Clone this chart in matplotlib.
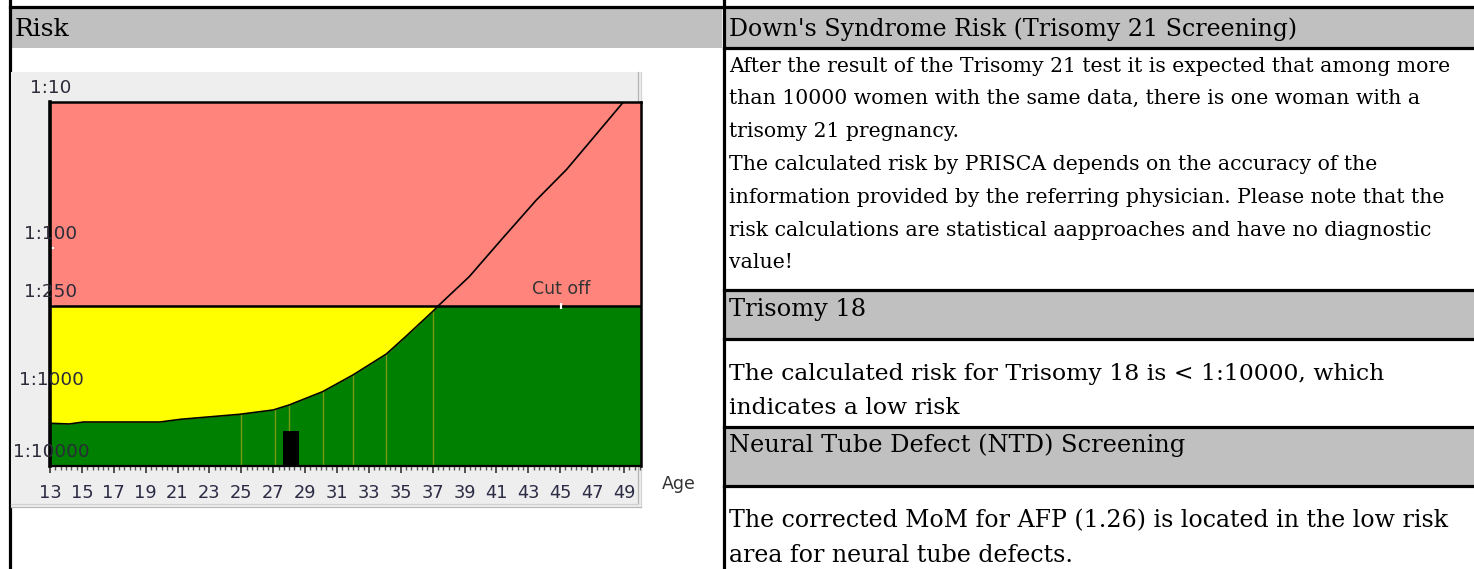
import numpy as np
import matplotlib
matplotlib.use('Agg')
import matplotlib.pyplot as plt
from matplotlib.patches import Rectangle
from matplotlib.ticker import NullLocator, MultipleLocator

# Age related risk curve for trisomy 21 (risk 1:N)
ages = [13, 14.2, 15.1, 19.9, 21.2, 24.9, 27.0, 28.0, 30.1, 32.0, 34.1, 35.3,
        37.1, 37.3, 39.3, 41.3, 43.5, 45.4, 47.0, 48.9]
risk = [2550, 2610, 2450, 2450, 2245, 1914, 1667, 1421, 964, 741, 532, 405,
        266, 252, 157, 88, 47, 29, 18, 10.2]
node_ages = [25.0, 27.1, 28.0, 30.1, 32.0, 34.1, 37.0]
cutoff = 250
patient_age = 28.13
patient_risk = 3300
risk_ticks = [10, 100, 250, 1000, 10000]
risk_labels = ['1:10', '1:100', '1:250', '1:1000', '1:10000']
age_ticks = list(range(13, 50, 2))

# report text
left_header = "Risk"
t21_header = "Down's Syndrome Risk (Trisomy 21 Screening)"
t21_lines = ["After the result of the Trisomy 21 test it is expected that among more",
             "than 10000 women with the same data, there is one woman with a",
             "trisomy 21 pregnancy.",
             "The calculated risk by PRISCA depends on the accuracy of the",
             "information provided by the referring physician. Please note that the",
             "risk calculations are statistical aapproaches and have no diagnostic",
             "value!"]
t18_header = "Trisomy 18"
t18_lines = ["The calculated risk for Trisomy 18 is < 1:10000, which",
             "indicates a low risk"]
ntd_header = "Neural Tube Defect (NTD) Screening"
ntd_lines = ["The corrected MoM for AFP (1.26) is located in the low risk",
             "area for neural tube defects."]

W, H = 1474, 569
fig = plt.figure(figsize=(W / 100, H / 100), dpi=100)

# ---- page / table layer in pixel coordinates
bg = fig.add_axes([0, 0, 1, 1])
bg.set_xlim(0, W)
bg.set_ylim(H, 0)
bg.axis('off')

gray = '#C0C0C0'
bg.add_patch(Rectangle((12, 9), 710, 39, facecolor=gray, edgecolor='none'))
bg.add_patch(Rectangle((726, 9), W - 726, 38, facecolor=gray, edgecolor='none'))
bg.add_patch(Rectangle((726, 292), W - 726, 46, facecolor=gray, edgecolor='none'))
bg.add_patch(Rectangle((726, 428), W - 726, 57, facecolor=gray, edgecolor='none'))

lw = 2.3
bg.plot([10, W], [7, 7], color='black', lw=lw)
bg.plot([10.5, 10.5], [0, H], color='black', lw=lw)
bg.plot([724, 724], [0, H], color='black', lw=lw)
for yy in [48, 290, 339, 427, 486]:
    bg.plot([724, W], [yy, yy], color='black', lw=lw)

# chart picture box
bg.add_patch(Rectangle((11, 72), 631, 435, facecolor='#EEEEEE', edgecolor='none', zorder=3))
bg.plot([638, 638], [72, 504], color='#B4B4B4', lw=0.9, zorder=4)
bg.plot([641, 641], [72, 507], color='#D4D4D4', lw=0.9, zorder=4)
bg.plot([11, 638], [503.5, 503.5], color='#D0D0D0', lw=0.9, zorder=4)
bg.plot([11, 641], [506.5, 506.5], color='#B8B8B8', lw=0.9, zorder=4)

serif = 'DejaVu Serif'
head_fs = 17.4
bg.text(15, 29, left_header, fontsize=18, family=serif, va='center')
bg.text(729, 29, t21_header, fontsize=17.15, family=serif, va='center')
for i, s in enumerate(t21_lines):
    bg.text(729, 66 + i * 32.8, s, fontsize=14.7, family=serif, va='center')
bg.text(729, 309, t18_header, fontsize=head_fs, family=serif, va='center')
for i, s in enumerate(t18_lines):
    bg.text(729, 374 + i * 34, s, fontsize=16.9, family=serif, va='center')
bg.text(729, 445, ntd_header, fontsize=head_fs, family=serif, va='center')
for i, s in enumerate(ntd_lines):
    bg.text(729, 521 + i * 34, s, fontsize=17.1, family=serif, va='center')

bg.text(662, 484, 'Age', fontsize=12.5, color='#333333', va='center')

# ---- risk chart
K = 72 / 146  # the 1:1000 - 1:10000 decade is drawn compressed


def fwd(v):
    with np.errstate(divide='ignore', invalid='ignore'):
        t = np.log10(np.asarray(v, dtype=float))
    return np.where(t <= 3, t, 3 + (t - 3) * K)


def inv(t):
    t = np.asarray(t, dtype=float)
    return 10 ** np.where(t <= 3, t, 3 + (t - 3) / K)


ax = fig.add_axes([50 / W, (H - 466) / H, 591 / W, 364 / H])
ax.set_yscale('function', functions=(fwd, inv))
ax.set_xlim(13, 50.07)
ax.set_ylim(10000, 10)

ax.axhspan(10, cutoff, color='#FF857C', zorder=1)
ax.axhspan(cutoff, 10000, color='#008000', zorder=1)
ax.vlines(node_ages, cutoff, 10000, color='#7A9A10', lw=1, zorder=2)
risk_arr = np.array(risk)
ax.fill_between(ages, risk_arr, cutoff, where=risk_arr > cutoff,
                interpolate=True, color='#FFFF00', lw=0, zorder=3)
ax.bar(patient_age, 10000 - patient_risk, bottom=patient_risk, width=0.99,
       color='black', zorder=4)
ax.axhline(cutoff, color='black', lw=1.8, zorder=5)
ax.plot(ages, risk, color='black', lw=1.2, zorder=6)
ax.plot([45.06], [cutoff], marker='|', color='white', ms=4, mew=1.6, zorder=7)
ax.annotate('Cut off', xy=(45.06, cutoff), xytext=(0, 17), textcoords='offset pixels',
            ha='center', va='center', fontsize=12.5, color='#333333')

ax.set_yticks(risk_ticks)
ax.yaxis.set_ticklabels([])
ax.yaxis.set_minor_locator(NullLocator())
ax.tick_params(axis='y', length=3, width=1.5, color='white', direction='in')
for r, lab in zip(risk_ticks, risk_labels):
    ax.annotate(lab, xy=(0, r), xycoords=ax.get_yaxis_transform(), xytext=(1, 14),
                textcoords='offset pixels', ha='center', va='center', fontsize=13.2,
                color='#2b2b3a', annotation_clip=False, zorder=10)

ax.set_xticks(age_ticks)
ax.xaxis.set_minor_locator(MultipleLocator(1 / 3))
ax.tick_params(axis='x', which='major', length=5, width=1.2, color='#333333',
               pad=8, labelsize=12.8, labelcolor='#2b2b45')
ax.tick_params(axis='x', which='minor', length=3, width=1.0, color='#555555')

for side, w in [('left', 2.6), ('top', 1.8), ('right', 1.8), ('bottom', 1.6)]:
    ax.spines[side].set_linewidth(w)
    ax.spines[side].set_color('black')
    ax.spines[side].set_zorder(8)

fig.savefig('out.png', dpi=100)
